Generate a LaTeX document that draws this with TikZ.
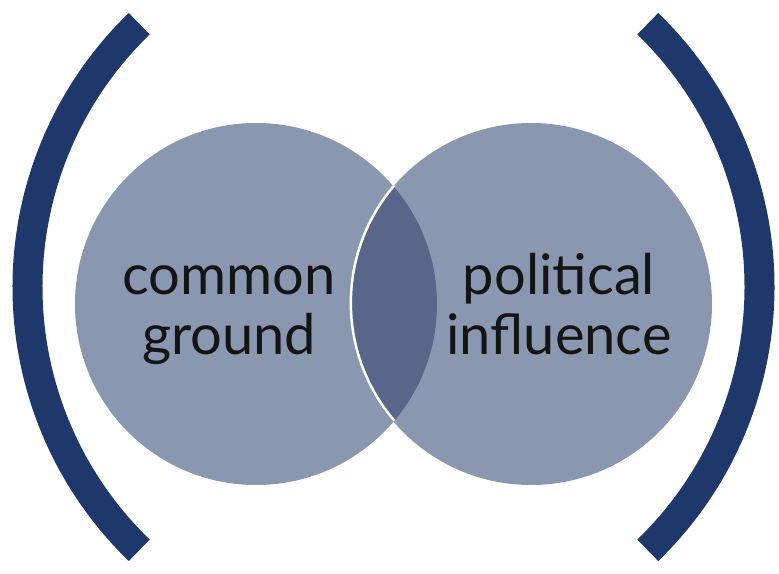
\documentclass[tikz,border=0pt]{standalone}
\usepackage{fontspec}
\setmainfont{Lato}
\usepackage{tikz}
\tikzset{
  every node/.style = {
    inner sep = 0pt,
    outer sep = 0pt
  }
}
\definecolor{bracketblue}{RGB}{31,56,107}
\definecolor{setgray}{RGB}{138,151,176}
\definecolor{overlapgray}{RGB}{87,102,137}

\begin{document}
\begin{tikzpicture}[
      x=1pt, y=1pt,
      set/.style={
        circle,
        fill = setgray,
        minimum size = 362pt,
      },
      set label/.style={
        align = center,
        text = black!92,
        font = \fontsize{56}{60}\selectfont,
      },
      bracket/.style={
        draw = bracketblue,
        line width = 30pt,
      },
      rim/.style={
        draw = white,
        line width = 2.5pt,
      },
      ]
      \useasboundingbox (0,0) rectangle (779,573);
      \coordinate (hub) at (393.5,286);
      % the two sets
      \node [set, name=set-common] at (256,269) {};
      \node [set, name=set-influence] at (531,269) {};
      \begin{scope}
        \clip (set-common.center) circle (181);
        \fill [overlapgray] (set-influence.center) circle (181);
      \end{scope}
      \draw [rim] (set-influence.139.4) arc (139.4:220.6:181);
      % labels
      \node [set label, name=label-common] at (229,258) {common\\ground};
      \node [set label, name=label-influence] at (559,269) {political\\influence};
      % brackets
      \draw [bracket] ([shift=(134:366)]hub) arc (134:226:366);
      \draw [bracket] ([shift=(-46:366)]hub) arc (-46:46:366);
    \end{tikzpicture}
\end{document}
